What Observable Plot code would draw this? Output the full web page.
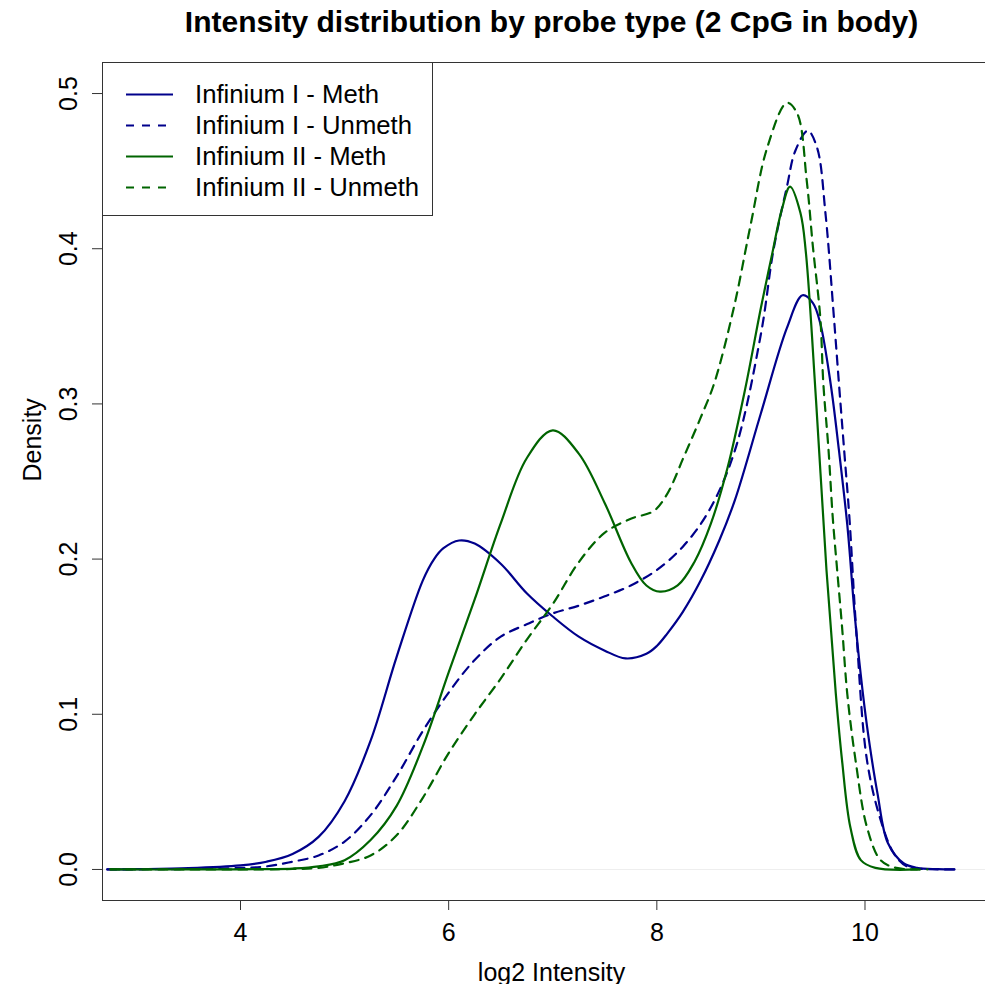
<!DOCTYPE html>
<html>
<head>
<meta charset="utf-8">
<script src="https://cdn.jsdelivr.net/npm/d3@7"></script>
<script src="https://cdn.jsdelivr.net/npm/@observablehq/plot@0.6"></script>
<style>
  html, body { margin: 0; padding: 0; background: #fff; overflow: hidden; }
  #wrap { position: relative; width: 985px; height: 984px; overflow: hidden; font-family: "Liberation Sans", Arial, sans-serif; }
  #chart { position: absolute; left: 0; top: 0; width: 1000px; height: 984px; }
  #chart svg { max-width: none !important; }
  #legend { position: absolute; left: 102px; top: 62px; width: 331px; height: 154px; box-sizing: border-box;
            border: 1px solid #333; background: #fff; padding-top: 16px; }
  .row { position: relative; height: 31px; }
  .row svg { position: absolute; left: 22px; top: 0; }
  .row span { position: absolute; left: 92px; top: 50%; transform: translateY(-50%); font-size: 25.7px; color: #000; white-space: nowrap; line-height: 1; }
</style>
</head>
<body>
<div id="wrap">
  <div id="chart"></div>
  <div id="legend"></div>
</div>
<script>
// ---- data ----
const titleText = "Intensity distribution by probe type (2 CpG in body)";
const xLabel = "log2 Intensity";
const yLabel = "Density";
const xTicks = [4, 6, 8, 10];
const yTicks = [0, 0.1, 0.2, 0.3, 0.4, 0.5];

const seriesNames = ["Infinium I - Meth", "Infinium I - Unmeth", "Infinium II - Meth", "Infinium II - Unmeth"];
const seriesColors = ["#00008B", "#00008B", "#006400", "#006400"];
const seriesDashed = [false, true, false, true];

const iMethX = [2.72, 3.0, 3.5, 4.0, 4.25, 4.5, 4.75, 5.0, 5.25, 5.5, 5.75, 5.86, 5.95, 6.1, 6.25, 6.5, 6.75, 7.0, 7.25, 7.5, 7.7, 7.9, 8.0, 8.1, 8.25, 8.42, 8.6, 8.75, 9.0, 9.25, 9.4, 9.5, 9.57, 9.67, 9.75, 9.83, 9.9, 9.96, 10.02, 10.12, 10.22, 10.37, 10.5, 10.7, 10.86];
const iMethY = [0, 0.0002, 0.0008, 0.0026, 0.005, 0.010, 0.021, 0.044, 0.083, 0.137, 0.186, 0.200, 0.207, 0.212, 0.210, 0.197, 0.178, 0.163, 0.150, 0.141, 0.136, 0.139, 0.144, 0.152, 0.166, 0.186, 0.212, 0.238, 0.294, 0.349, 0.370, 0.365, 0.352, 0.313, 0.270, 0.222, 0.165, 0.125, 0.092, 0.049, 0.017, 0.004, 0.001, 0.0002, 0];

const iUnmethX = [2.72, 3.0, 3.5, 4.0, 4.25, 4.5, 4.75, 5.0, 5.25, 5.5, 5.75, 6.0, 6.25, 6.5, 6.75, 7.0, 7.25, 7.5, 7.75, 8.0, 8.25, 8.5, 8.75, 9.0, 9.12, 9.25, 9.33, 9.45, 9.54, 9.62, 9.7, 9.75, 9.8, 9.85, 9.92, 10.02, 10.15, 10.28, 10.4, 10.55, 10.86];
const iUnmethY = [0, 0.0001, 0.0003, 0.001, 0.002, 0.005, 0.009, 0.018, 0.035, 0.060, 0.089, 0.114, 0.135, 0.150, 0.158, 0.165, 0.170, 0.176, 0.183, 0.193, 0.208, 0.231, 0.270, 0.345, 0.399, 0.440, 0.463, 0.476, 0.465, 0.423, 0.357, 0.313, 0.270, 0.227, 0.150, 0.070, 0.032, 0.010, 0.002, 0.0004, 0];

const iiMethX = [2.75, 3.5, 4.0, 4.5, 4.75, 5.0, 5.25, 5.5, 5.75, 6.0, 6.25, 6.5, 6.75, 7.0, 7.25, 7.5, 7.75, 7.9, 8.03, 8.2, 8.36, 8.52, 8.68, 8.85, 9.0, 9.1, 9.2, 9.28, 9.38, 9.43, 9.53, 9.63, 9.72, 9.78, 9.86, 9.96, 10.1, 10.5];
const iiMethY = [0, 0, 0.0001, 0.0006, 0.002, 0.006, 0.019, 0.041, 0.079, 0.127, 0.174, 0.223, 0.265, 0.283, 0.268, 0.236, 0.198, 0.183, 0.179, 0.183, 0.198, 0.223, 0.259, 0.310, 0.362, 0.394, 0.425, 0.440, 0.423, 0.399, 0.302, 0.193, 0.113, 0.070, 0.027, 0.006, 0.001, 0];

const iiUnmethX = [2.75, 3.5, 4.0, 4.5, 4.75, 5.0, 5.25, 5.5, 5.75, 6.0, 6.25, 6.5, 6.75, 7.0, 7.25, 7.5, 7.75, 7.97, 8.1, 8.26, 8.42, 8.55, 8.74, 8.9, 9.06, 9.25, 9.35, 9.44, 9.5, 9.57, 9.6, 9.65, 9.69, 9.73, 9.78, 9.83, 9.91, 10.02, 10.15, 10.3, 10.6];
const iiUnmethY = [0, 0, 0, 0.0003, 0.001, 0.004, 0.009, 0.022, 0.046, 0.075, 0.100, 0.123, 0.148, 0.171, 0.198, 0.217, 0.226, 0.231, 0.242, 0.266, 0.291, 0.313, 0.362, 0.415, 0.465, 0.494, 0.487, 0.444, 0.401, 0.356, 0.313, 0.270, 0.227, 0.195, 0.156, 0.113, 0.070, 0.027, 0.006, 0.001, 0];

const seriesX = [iMethX, iUnmethX, iiMethX, iiUnmethX];
const seriesY = [iMethY, iUnmethY, iiMethY, iiUnmethY];

// ---- layout ----
const W = 1000, H = 984;
const xDomain = [2.674, 11.302];
const yDomain = [-0.02, 0.52];
const dash = "9,7";
const font = "Liberation Sans, Arial, sans-serif";

const lineMarks = seriesNames.map((name, k) => {
  const rows = seriesX[k].map((v, i) => ({x: v, y: seriesY[k][i], series: name}));
  return Plot.line(rows, {
    x: "x", y: "y", stroke: seriesColors[k], strokeWidth: 2.2,
    strokeDasharray: seriesDashed[k] ? dash : null, curve: "catmull-rom"
  });
});

const chart = Plot.plot({
  width: W, height: H,
  marginTop: 62, marginBottom: 84, marginLeft: 102, marginRight: 0,
  style: {fontFamily: font, fontSize: "25px", color: "#000", background: "#fff", overflow: "visible", maxWidth: "none"},
  x: {domain: xDomain},
  y: {domain: yDomain},
  marks: [
    Plot.ruleY([0], {stroke: "#eeeeee", strokeWidth: 1}),
    ...lineMarks,
    Plot.frame({stroke: "#333", strokeWidth: 1}),
    Plot.axisX(xTicks, {tickSize: 10, tickPadding: 13, fontSize: 25, label: null, stroke: "#333"}),
    Plot.axisY(yTicks, {tickSize: 10, tickPadding: 0, label: null, stroke: "#333", tickFormat: () => ""}),
    Plot.text(yTicks, {x: () => xDomain[0], y: d => d, text: d => d.toFixed(1), rotate: -90,
      dx: -34, textAnchor: "middle", lineAnchor: "middle", fontSize: 25, fill: "#000"}),
    Plot.text([xLabel], {frameAnchor: "bottom", dy: 72, lineAnchor: "middle", fontSize: 25, fill: "#000"}),
    Plot.text([yLabel], {frameAnchor: "left", dx: -70, rotate: -90, lineAnchor: "middle", fontSize: 25, fill: "#000"}),
    Plot.text([titleText], {frameAnchor: "top", dy: -40, lineAnchor: "middle", fontSize: 30, fontWeight: "bold", fill: "#000"})
  ]
});
chart.style.maxWidth = "none";
chart.style.width = W + "px";
chart.style.height = H + "px";
document.getElementById("chart").appendChild(chart);

// legend
const legend = document.getElementById("legend");
seriesNames.forEach((name, k) => {
  const row = document.createElement("div");
  row.className = "row";
  const ns = "http://www.w3.org/2000/svg";
  const svg = document.createElementNS(ns, "svg");
  svg.setAttribute("width", "50"); svg.setAttribute("height", "31");
  const ln = document.createElementNS(ns, "line");
  ln.setAttribute("x1", "1"); ln.setAttribute("x2", "48");
  ln.setAttribute("y1", "15.5"); ln.setAttribute("y2", "15.5");
  ln.setAttribute("stroke", seriesColors[k]); ln.setAttribute("stroke-width", "2.2");
  if (seriesDashed[k]) ln.setAttribute("stroke-dasharray", "8,8");
  svg.appendChild(ln);
  const span = document.createElement("span");
  span.textContent = name;
  row.appendChild(svg); row.appendChild(span);
  legend.appendChild(row);
});
</script>
</body>
</html>
